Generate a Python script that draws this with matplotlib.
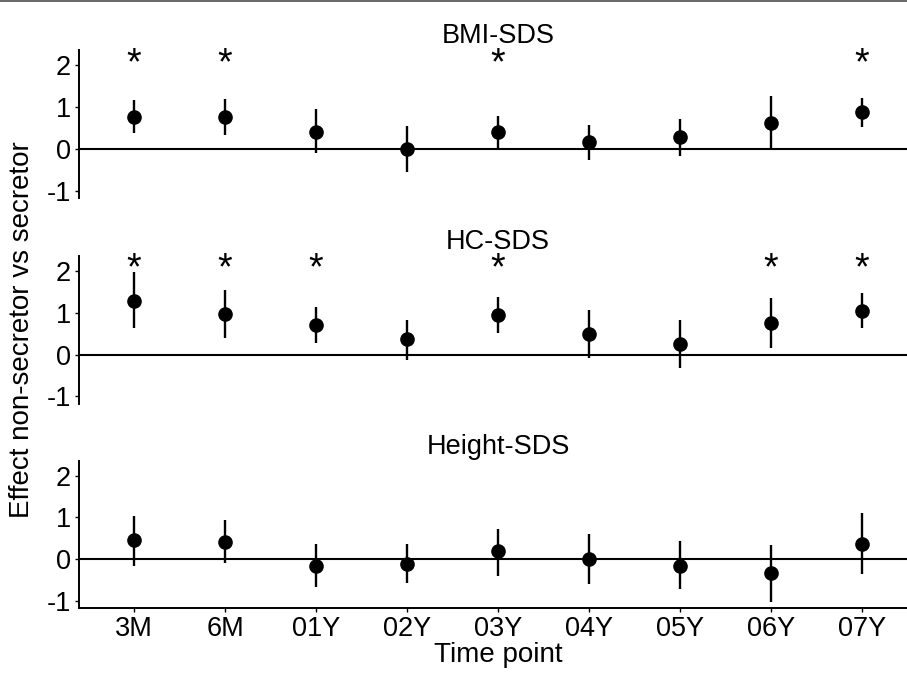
import matplotlib
matplotlib.use('Agg')
import matplotlib.pyplot as plt
from matplotlib.lines import Line2D
from matplotlib.transforms import offset_copy
import numpy as np

# ---------------- data ----------------
timepoints = ['3M', '6M', '01Y', '02Y', '03Y', '04Y', '05Y', '06Y', '07Y']
panel_titles = ['BMI-SDS', 'HC-SDS', 'Height-SDS']

bmi_est = [0.77, 0.76, 0.41, 0.00, 0.40, 0.17, 0.29, 0.63, 0.88]
bmi_lo = [0.38, 0.33, -0.10, -0.54, 0.00, -0.26, -0.16, 0.00, 0.53]
bmi_hi = [1.17, 1.18, 0.95, 0.55, 0.79, 0.58, 0.71, 1.26, 1.22]
bmi_sig = [1, 1, 0, 0, 1, 0, 0, 0, 1]

hc_est = [1.29, 0.97, 0.71, 0.36, 0.95, 0.49, 0.25, 0.75, 1.05]
hc_lo = [0.63, 0.39, 0.27, -0.12, 0.51, -0.09, -0.33, 0.15, 0.63]
hc_hi = [1.96, 1.54, 1.13, 0.83, 1.38, 1.07, 0.83, 1.34, 1.47]
hc_sig = [1, 1, 1, 0, 1, 0, 0, 1, 1]

height_est = [0.45, 0.41, -0.16, -0.12, 0.19, 0.00, -0.16, -0.34, 0.37]
height_lo = [-0.16, -0.10, -0.66, -0.58, -0.40, -0.60, -0.72, -1.02, -0.36]
height_hi = [1.03, 0.93, 0.37, 0.37, 0.73, 0.61, 0.43, 0.35, 1.10]
height_sig = [0, 0, 0, 0, 0, 0, 0, 0, 0]

y_ticks = [-1, 0, 1, 2]
star_level = 2.14

# ---------------- style ----------------
plt.rcParams['font.family'] = ['Liberation Sans', 'DejaVu Sans']
plt.rcParams['axes.unicode_minus'] = False

W, H = 907, 676
fig = plt.figure(figsize=(W / 100, H / 100), dpi=100)

left_px, right_px = 79.4, 916.6
panel_px = [(50, 198), (255.7, 403.5), (460.7, 608)]

series = [
    (bmi_est, bmi_lo, bmi_hi, bmi_sig),
    (hc_est, hc_lo, hc_hi, hc_sig),
    (height_est, height_lo, height_hi, height_sig),
]

x = np.arange(len(timepoints))
axes = []
for i, ((top, bot), (est, lo, hi, sig), title) in enumerate(zip(panel_px, series, panel_titles)):
    ax = fig.add_axes([left_px / W, 1 - bot / H, (right_px - left_px) / W, (bot - top) / H])
    axes.append(ax)
    ax.axhline(0, color='black', lw=1.5, zorder=1)
    ax.vlines(x, lo, hi, color='black', lw=1.7, zorder=2)
    ax.plot(x, est, 'o', color='black', ms=9.5, zorder=3)
    trans = offset_copy(ax.transData, fig=fig, x=0, y=-10.5, units='points')
    for xi, s in zip(x, sig):
        if s:
            ax.text(xi, star_level, '*', fontsize=27, ha='center', va='baseline',
                    transform=trans, color='black')
    ax.set_xlim(-0.6, len(timepoints) - 1 + 0.6)
    ax.set_ylim(-1.17, 2.36)
    ax.set_yticks(y_ticks)
    ax.set_yticklabels([str(t) for t in y_ticks])
    ax.set_title(title, fontsize=19.5, pad=5)
    for s in ['top', 'right']:
        ax.spines[s].set_visible(False)
    ax.spines['left'].set_linewidth(1.4)
    ax.spines['bottom'].set_linewidth(1.4)
    ax.tick_params(axis='y', labelsize=19.5, length=3, width=1, pad=3, colors='black')
    ax.tick_params(axis='x', labelsize=19.5, length=3, width=1, pad=3, colors='black')
    ax.patch.set_alpha(0)
    if i < 2:
        ax.spines['bottom'].set_visible(False)
        ax.set_xticks([])
    else:
        ax.set_xticks(x)
        ax.set_xticklabels(timepoints)
        ax.set_xlabel('Time point', fontsize=20, labelpad=0)

fig.text(22 / W, 1 - 330 / H, 'Effect non-secretor vs secretor', rotation=90,
         fontsize=20, ha='center', va='center')

fig.add_artist(Line2D([0, 1], [1 - 0.6 / H, 1 - 0.6 / H], transform=fig.transFigure,
                      color='#4d4d4d', lw=1.2))

fig.savefig('out.png', dpi=100)
